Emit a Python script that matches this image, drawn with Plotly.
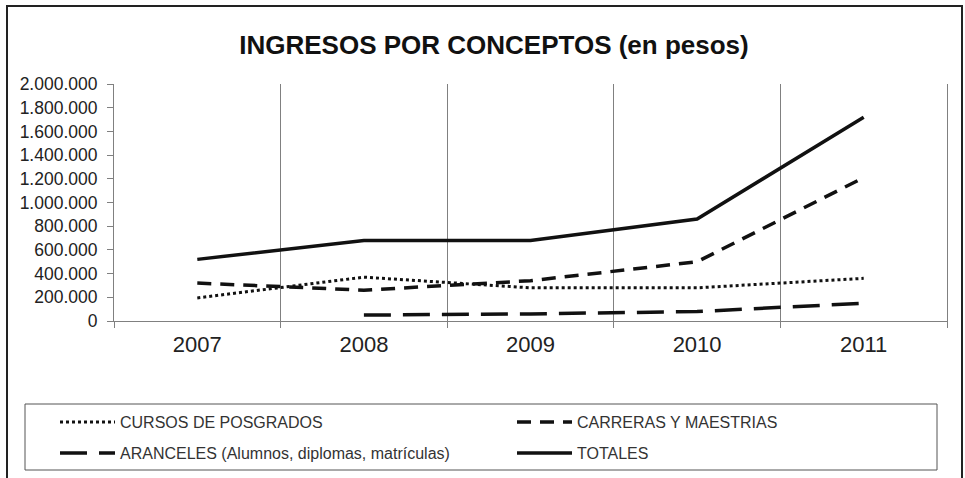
import plotly.graph_objects as go

years = ["2007", "2008", "2009", "2010", "2011"]
cursos = [195000, 370000, 280000, 280000, 360000]
carreras = [320000, 260000, 340000, 500000, 1210000]
aranceles = [None, 50000, 60000, 80000, 150000]
totales = [520000, 680000, 680000, 860000, 1720000]
y_ticks = [0, 200000, 400000, 600000, 800000, 1000000, 1200000, 1400000, 1600000, 1800000, 2000000]

FONT = "Liberation Sans, Arial, sans-serif"
INK = "#111111"

fig = go.Figure()
fig.add_trace(go.Scatter(x=years, y=cursos, mode="lines", name="CURSOS DE POSGRADOS",
                         line=dict(color=INK, width=3, dash="3px,3px"), legend="legend"))
fig.add_trace(go.Scatter(x=years, y=carreras, mode="lines", name="CARRERAS Y MAESTRIAS",
                         line=dict(color=INK, width=3.5, dash="14px,9px"), legend="legend"))
fig.add_trace(go.Scatter(x=years, y=aranceles, mode="lines", name="ARANCELES (Alumnos, diplomas, matrículas)",
                         line=dict(color=INK, width=3.5, dash="27px,12px"), legend="legend2"))
fig.add_trace(go.Scatter(x=years, y=totales, mode="lines", name="TOTALES",
                         line=dict(color=INK, width=3.5), legend="legend2"))

W, H = 965, 478
L, R, T, B = 114, 18, 84, 157
pw, ph = W - L - R, H - T - B

def px(x):
    return (x - L) / pw

def py(y):
    return (H - B - y) / ph

legend_common = dict(orientation="h", xanchor="left", yanchor="middle",
                     font=dict(family=FONT, size=16, color="#333333"),
                     itemwidth=55, entrywidth=387, borderwidth=0,
                     bgcolor="rgba(0,0,0,0)", traceorder="normal")

fig.update_layout(
    width=W, height=H,
    margin=dict(l=L, r=R, t=T, b=B, autoexpand=False),
    paper_bgcolor="white", plot_bgcolor="white",
    separators=",.",
    title=dict(text="<b>INGRESOS POR CONCEPTOS (en pesos)</b>", x=494 / W, xref="container",
               xanchor="center", y=1 - 45 / H, yanchor="middle",
               font=dict(family=FONT, size=26, color=INK)),
    font=dict(family=FONT, color="#222222"),
    showlegend=True,
    legend=dict(x=px(55), y=py(422), **legend_common),
    legend2=dict(x=px(55), y=py(453), **legend_common),
    xaxis=dict(type="category", tickson="boundaries", showgrid=True, gridcolor="#808080", gridwidth=1,
               showline=True, linecolor="#808080", linewidth=1, ticks="outside", ticklen=6,
               tickcolor="#808080", tickfont=dict(family=FONT, size=22, color="#222222"),
               ticklabelstandoff=4, range=[-0.5, 4.5], zeroline=False),
    yaxis=dict(range=[0, 2000000], tickvals=y_ticks, tickformat=",d", showgrid=False,
               showline=True, linecolor="#808080", linewidth=1, mirror=True, ticks="outside",
               ticklen=6, tickcolor="#808080", zeroline=False, ticklabelstandoff=6,
               tickfont=dict(family=FONT, size=17.5, color="#222222")),
    shapes=[
        dict(type="rect", xref="paper", yref="paper", x0=px(7), x1=px(962), y0=py(490), y1=py(6),
             line=dict(color="#222222", width=2), fillcolor="rgba(0,0,0,0)", layer="below"),
        dict(type="rect", xref="paper", yref="paper", x0=px(25), x1=px(937), y0=py(470), y1=py(404),
             line=dict(color="#555555", width=1), fillcolor="rgba(0,0,0,0)"),
    ],
)

fig.write_html("out.html", config={"displayModeBar": False},
               post_script="document.body.style.margin='0';")
